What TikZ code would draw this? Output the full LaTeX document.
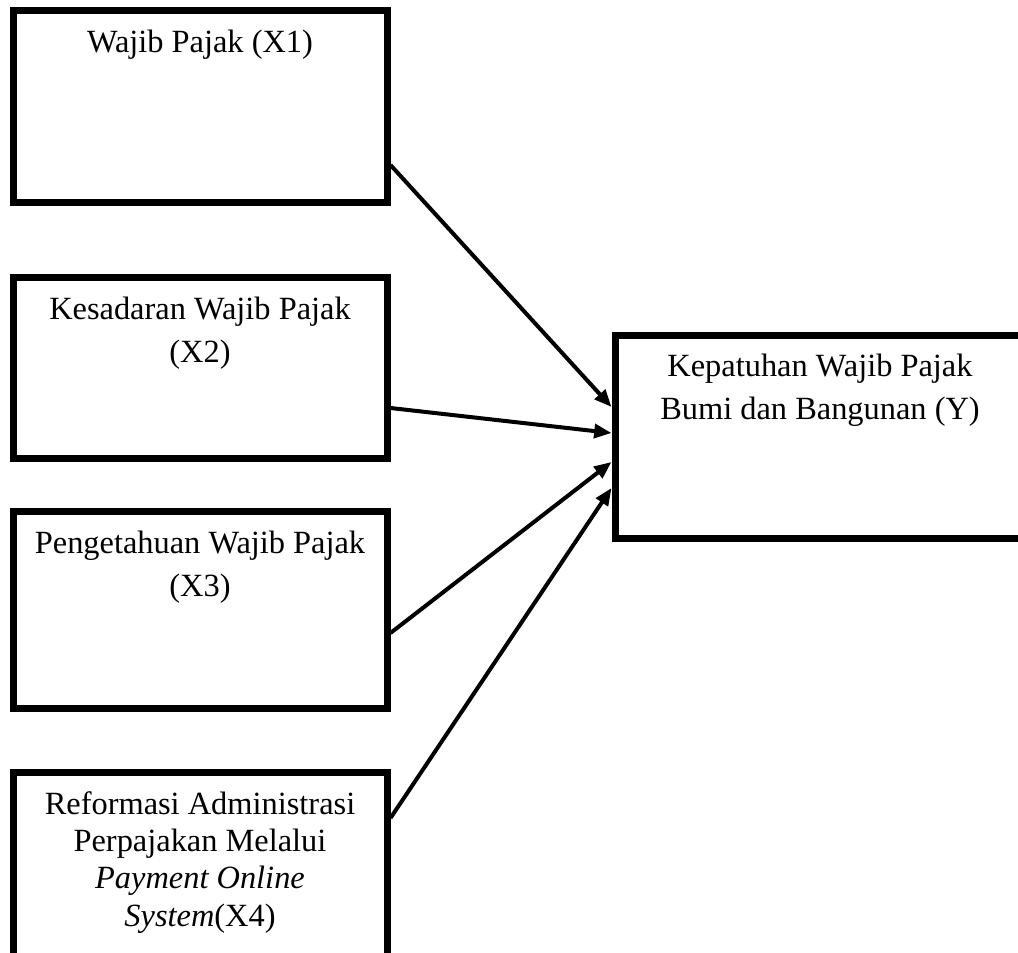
\documentclass[tikz,border=0pt]{standalone}
\usepackage{fontspec}
\setmainfont{Liberation Serif}
\usetikzlibrary{arrows.meta,positioning,calc}

\begin{document}
\begin{tikzpicture}[x=0.75pt,y=-0.75pt,>={Triangle[length=13pt,width=10.5pt]},
    varbox/.style={draw, line width=5.25pt, minimum width=280.5pt, inner sep=0pt},
    vartext/.style={align=center, inner sep=0pt, font=\fontsize{24.3}{32}\selectfont},
    link/.style={->, line width=3pt}]
      \path[use as bounding box, clip] (0,0) rectangle (1018,953);

      \node[varbox, minimum height=144pt] at (200,106.5) (x1){};
      \node[varbox, minimum height=135.75pt] [below=51pt of x1] (x2){};
      \node[varbox, minimum height=147.75pt] [below=34.5pt of x2] (x3){};
      \node[varbox, minimum height=141pt] [below=42.4pt of x3] (x4){};
      \node[varbox, minimum width=307.5pt, minimum height=152.6pt] at (820,436.75) (y){};

      \node[vartext] [below=17pt of x1.north] (t1){Wajib Pajak (X1)};
      \node[vartext] [below=17pt of x2.north] (t2){Kesadaran Wajib Pajak\\(X2)};
      \node[vartext] [below=17pt of x3.north] (t3){Pengetahuan Wajib Pajak\\(X3)};
      \node[vartext, font=\fontsize{24.3}{28}\selectfont] [below=17pt of x4.north] (t4){Reformasi Administrasi\\Perpajakan Melalui\\\textit{Payment Online}\\\textit{System}(X4)};
      \node[vartext] [below=17pt of y.north] (ty){Kepatuhan Wajib Pajak\\Bumi dan Bangunan (Y)};

      \draw[link] ($(x1.east)+(0,58.5)$) -- ($(y.west)+(0,-29.75)$);
      \draw[link] ($(x2.east)+(0,40)$) -- ($(y.west)+(0,-3.75)$);
      \draw[link] ($(x3.east)+(0,23)$) -- ($(y.west)+(0,25.25)$);
      \draw[link] ($(x4.north east)+(0,49.5)$) -- ($(y.west)+(0,51.25)$);

    \end{tikzpicture}
\end{document}
